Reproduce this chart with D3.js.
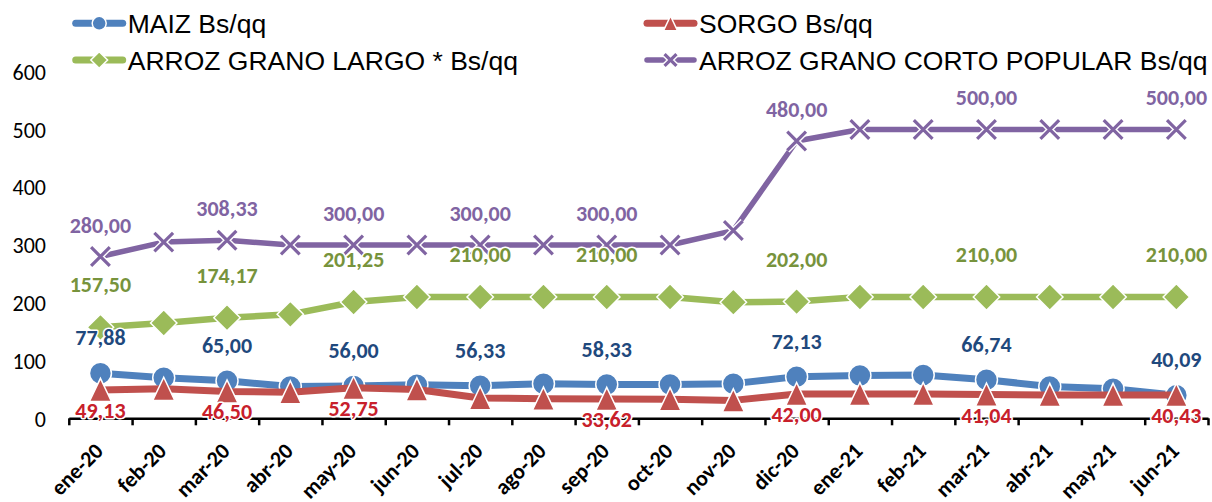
<!DOCTYPE html>
<html>
<head>
  <meta charset="utf-8">
  <script src="https://cdnjs.cloudflare.com/ajax/libs/d3/7.8.5/d3.min.js"></script>
  <style>
    body { margin: 0; padding: 0; background: #fff; }
    .tick-y text { font: 22px Carlito, Lato, sans-serif; fill: #000; }
    .tick-x text { font: bold 22px Carlito, Lato, sans-serif; fill: #000; }
    .lbl { font: bold 22px Carlito, Lato, sans-serif; paint-order: stroke; stroke: #fff; stroke-width: 3px; stroke-linejoin: round; }
    .legend text { font: 26.5px "Liberation Sans", Arial, sans-serif; fill: #000; }
  </style>
</head>
<body>
  <svg width="1212" height="502"></svg>
  <script>
    // months and series (Bs/qq)
    let months = ["ene-20", "feb-20", "mar-20", "abr-20", "may-20", "jun-20", "jul-20", "ago-20", "sep-20",
      "oct-20", "nov-20", "dic-20", "ene-21", "feb-21", "mar-21", "abr-21", "may-21", "jun-21"];
    let maiz = [77.88, 70, 65, 55, 56, 58, 56.33, 60, 58.33, 58.5, 60, 72.13, 74, 75, 66.74, 55, 51, 40.09];
    let sorgo = [49.13, 51, 46.5, 45, 52.75, 50, 35, 34, 33.62, 33, 31, 42, 42, 42, 41.04, 40.5, 40.5, 40.43];
    let arrozLargo = [157.5, 165, 174.17, 180, 201.25, 210, 210, 210, 210, 210, 201, 202, 210, 210, 210, 210, 210, 210];
    let arrozCorto = [280, 305, 308.33, 300, 300, 300, 300, 300, 300, 300, 325, 480, 500, 500, 500, 500, 500, 500];
    // months that carry a value label
    let labeledAll = [0, 2, 4, 6, 8, 11, 14, 17];
    let labeledSorgo = [0, 2, 4, 8, 11, 14, 17];
    let yTicks = [0, 100, 200, 300, 400, 500, 600];

    let series = [
      { name: "MAIZ Bs/qq", values: maiz, labels: labeledAll, color: "#4F81BD", text: "#1F497D", width: 7, marker: "circle", dy: -28 },
      { name: "SORGO Bs/qq", values: sorgo, labels: labeledSorgo, color: "#C0504D", text: "#C8202B", width: 7, marker: "triangle", dy: 28 },
      { name: "ARROZ GRANO LARGO * Bs/qq", values: arrozLargo, labels: labeledAll, color: "#9BBB59", text: "#77933C", width: 6.5, marker: "diamond", dy: -35 },
      { name: "ARROZ GRANO CORTO POPULAR Bs/qq", values: arrozCorto, labels: labeledAll, color: "#8064A2", text: "#8064A2", width: 5.5, marker: "x", dy: -24 }
    ];

    let svg = d3.select("svg");
    let plotLeft = 68.8, plotRight = 1208, plotTop = 71.7, plotBottom = 418.3;

    let x = d3.scaleBand().domain(months).range([plotLeft, plotRight]).padding(0);
    let cx = function(m) { return x(m) + x.bandwidth() / 2; };
    let xb = d3.scaleLinear().domain([0, months.length]).range([plotLeft, plotRight]);
    let y = d3.scaleLinear().domain([0, 600]).range([plotBottom, plotTop]);

    // y axis labels only
    let gy = svg.append("g")
      .attr("class", "tick-y")
      .attr("transform", "translate(46,0)")
      .call(d3.axisLeft(y).tickValues(yTicks).tickSize(0).tickPadding(0));
    gy.select(".domain").remove();
    gy.selectAll("text").attr("dy", "0.35em");

    // x axis line with boundary ticks
    let gxb = svg.append("g")
      .attr("transform", "translate(0," + plotBottom + ")")
      .call(d3.axisBottom(xb).tickValues(d3.range(months.length + 1)).tickSize(7).tickSizeOuter(0).tickFormat(""));
    gxb.select(".domain").attr("stroke", "#000").attr("stroke-width", 2.5);
    gxb.selectAll(".tick line").attr("stroke", "#000").attr("stroke-width", 2.5);

    // x labels rotated
    let gx = svg.append("g")
      .attr("class", "tick-x")
      .attr("transform", "translate(0," + plotBottom + ")")
      .call(d3.axisBottom(x).tickSize(0));
    gx.select(".domain").remove();
    gx.selectAll("text")
      .attr("text-anchor", "end")
      .attr("dy", 0)
      .attr("y", 0)
      .attr("transform", "translate(4,34) rotate(-45)");

    let line = d3.line()
      .x(function(d, i) { return cx(months[i]); })
      .y(function(d) { return y(d); });

    function drawMarker(g, type, color, s) {
      if (type === "circle") {
        g.append("circle").attr("r", s).attr("fill", color).attr("stroke", "#fff").attr("stroke-width", 1.5);
      } else if (type === "triangle") {
        let h = s * 1.05;
        g.append("path").attr("d", "M0," + (-h) + "L" + s + "," + h + "L" + (-s) + "," + h + "Z")
          .attr("fill", color).attr("stroke", "#fff").attr("stroke-width", 1.5);
      } else if (type === "diamond") {
        let w = s * 1.2;
        g.append("path").attr("d", "M0," + (-w) + "L" + w + ",0L0," + w + "L" + (-w) + ",0Z")
          .attr("fill", color).attr("stroke", "#fff").attr("stroke-width", 1.5);
      } else {
        let a = s * 0.85;
        let d = "M" + (-a) + "," + (-a) + "L" + a + "," + a + "M" + (-a) + "," + a + "L" + a + "," + (-a);
        g.append("path").attr("d", d).attr("stroke", "#fff").attr("stroke-width", 6).attr("fill", "none");
        g.append("path").attr("d", d).attr("stroke", color).attr("stroke-width", 3.2).attr("fill", "none");
      }
    }

    // series lines + markers
    series.forEach(function(s) {
      let g = svg.append("g");
      g.append("path")
        .attr("d", line(s.values))
        .attr("fill", "none")
        .attr("stroke", s.color)
        .attr("stroke-width", s.width)
        .attr("stroke-linejoin", "round");
      s.values.forEach(function(v, i) {
        let m = g.append("g").attr("transform", "translate(" + cx(months[i]) + "," + y(v) + ")");
        drawMarker(m, s.marker, s.color, 11);
      });
    });

    // data labels
    let fmt = function(v) { return d3.format(".2f")(v).replace(".", ","); };
    series.forEach(function(s) {
      svg.append("g").selectAll("text")
        .data(s.labels)
        .enter()
        .append("text")
        .attr("class", "lbl")
        .attr("x", function(i) { return cx(months[i]); })
        .attr("y", function(i) { return y(s.values[i]) + s.dy; })
        .attr("text-anchor", "middle")
        .attr("fill", s.text)
        .text(function(i) { return fmt(s.values[i]); });
    });

    // legend
    let legendPos = [[72.7, 23.3], [644, 23.3], [72.7, 60], [644, 60]];
    let legend = svg.append("g").attr("class", "legend");
    series.forEach(function(s, k) {
      let p = legendPos[k];
      let g = legend.append("g").attr("transform", "translate(" + p[0] + "," + p[1] + ")");
      g.append("line").attr("x1", 3).attr("x2", 50).attr("y1", 0).attr("y2", 0)
        .attr("stroke", s.color).attr("stroke-width", s.marker === "x" ? 5.5 : 7).attr("stroke-linecap", "round");
      let m = g.append("g").attr("transform", "translate(26.5,0)");
      drawMarker(m, s.marker, s.color, 7);
      g.append("text").attr("x", 55).attr("y", 9.5).text(s.name);
    });
  </script>
</body>
</html>
